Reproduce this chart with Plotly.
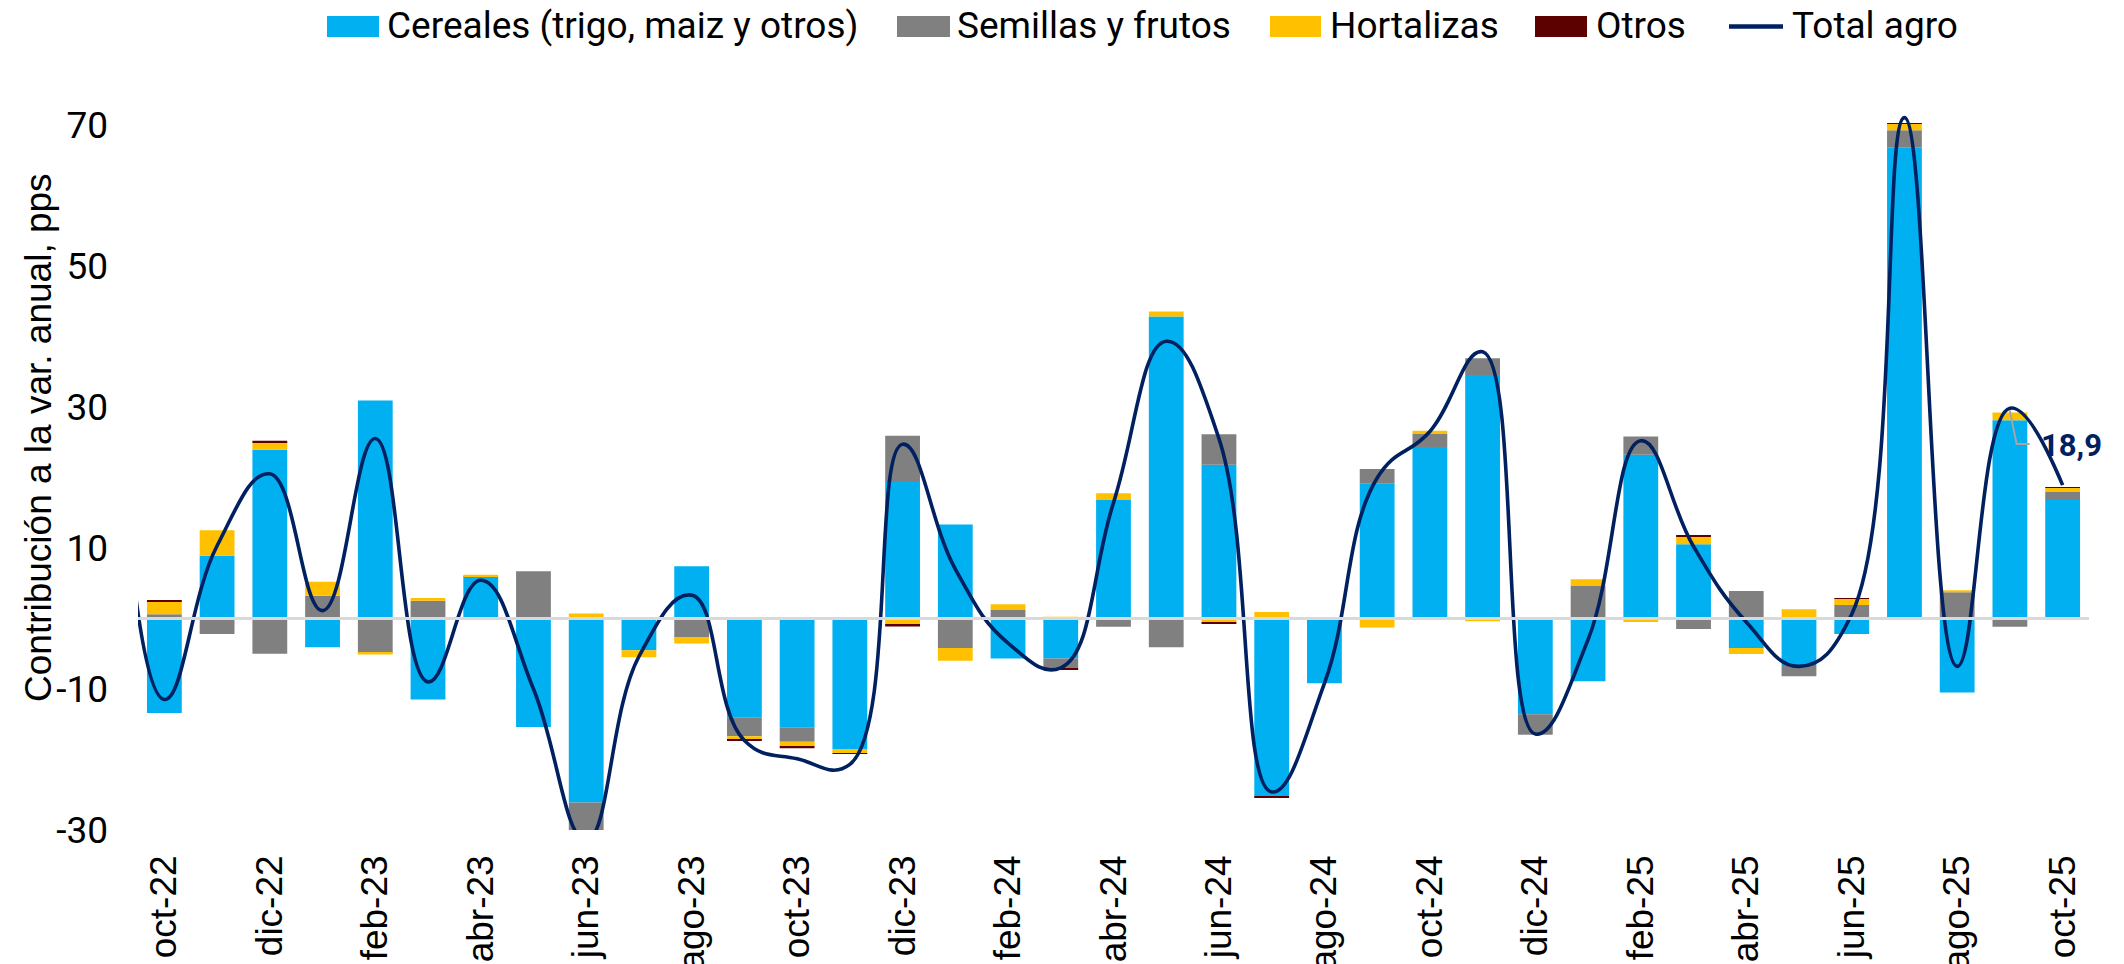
import plotly.graph_objects as go

months = ["oct-22", "nov-22", "dic-22", "ene-23", "feb-23", "mar-23", "abr-23", "may-23",
          "jun-23", "jul-23", "ago-23", "sep-23", "oct-23", "nov-23", "dic-23", "ene-24",
          "feb-24", "mar-24", "abr-24", "may-24", "jun-24", "jul-24", "ago-24", "sep-24",
          "oct-24", "nov-24", "dic-24", "ene-25", "feb-25", "mar-25", "abr-25", "may-25",
          "jun-25", "jul-25", "ago-25", "sep-25", "oct-25"]

cereales = [-13.4, 8.9, 23.9, -4.1, 30.9, -11.5, 5.8, -15.4,
            -26.1, -4.5, 7.4, -14.1, -15.5, -18.6, 19.5, 13.3,
            -5.7, -5.7, 16.8, 42.8, 21.8, -25.3, -9.2, 19.1,
            24.3, 34.5, -13.6, -8.9, 23.2, 10.5, -4.2, -6.6,
            -2.2, 66.8, -10.5, 28.1, 16.8]
semillas = [0.6, -2.2, -5.0, 3.2, -4.9, 2.5, 0.2, 6.7,
            -4.5, 0.0, -2.7, -2.6, -2.0, 0.15, 6.4, -4.2,
            1.2, -1.4, -1.2, -4.1, 4.3, 0.0, 0.0, 2.1,
            1.9, 2.4, -2.9, 4.6, 2.6, -1.5, 3.9, -1.6,
            1.9, 2.4, 3.7, -1.2, 1.2]
hortalizas = [1.8, 3.6, 1.1, 2.0, -0.2, 0.4, 0.2, 0.0,
              0.7, -1.0, -0.85, -0.5, -0.7, -0.5, -0.9, -1.8,
              0.8, 0.25, 0.95, 0.7, -0.6, 0.9, 0.0, -1.3,
              0.4, -0.4, 0.0, 0.95, -0.5, 1.1, -0.85, 1.3,
              0.9, 0.9, 0.3, 1.1, 0.5]
otros = [0.1, 0.0, 0.2, 0.0, 0.0, 0.0, 0.0, 0.0,
         0.0, 0.0, 0.0, -0.15, -0.2, -0.1, -0.25, 0.0,
         0.0, -0.1, 0.0, 0.0, -0.1, -0.1, 0.0, 0.0,
         0.0, 0.0, 0.15, 0.0, 0.0, 0.1, 0.0, 0.0,
         0.05, 0.1, 0.0, 0.0, 0.1]

# total agro line: first value is sep-22 (outside the visible range, only its curve enters)
total_months = ["sep-22"] + months
total = [42.0,
         -11.5, 10.3, 20.5, 1.1, 25.5, -9.0, 5.4, -10.0,
         -31.5, -5.4, 3.3, -17.3, -19.9, -20.7, 24.7, 7.0,
         -3.5, -7.0, 16.4, 39.3, 25.5, -24.6, -9.2, 19.9,
         26.5, 37.8, -16.4, -3.0, 25.2, 10.2, -0.5, -6.8,
         0.6, 71.0, -6.8, 29.8, 18.9]

y_ticks = [-30, -10, 10, 30, 50, 70]

C_CER = "#00B0F0"
C_SEM = "#808080"
C_HOR = "#FFC000"
C_OTR = "#5C0000"
C_TOT = "#002060"

x_bar = list(range(len(months)))
x_line = list(range(-1, len(months)))

W, H = 2124, 964
OFF = 8  # the page body adds an 8 px offset; targets below are screen pixels
PL, PR, PT, PB = 138, 2089, 82, 830  # plot area on screen
ML, MR = PL - OFF, W - (PR - OFF)
MT, MB = PT - OFF, H - (PB - OFF)
PW, PH = PR - PL, PB - PT


def px(xs):
    return (xs - PL) / PW


def py(ys):
    return (PB - ys) / PH


fig = go.Figure()
for name, vals, col in [("Cereales (trigo, maiz y otros)", cereales, C_CER),
                        ("Semillas y frutos", semillas, C_SEM),
                        ("Hortalizas", hortalizas, C_HOR),
                        ("Otros", otros, C_OTR)]:
    fig.add_trace(go.Bar(x=x_bar, y=vals, name=name, marker=dict(color=col, line=dict(width=0)),
                         showlegend=False))

fig.add_trace(go.Scatter(x=x_line, y=total, name="Total agro", mode="lines",
                         line=dict(color=C_TOT, width=3.6, shape="spline", smoothing=1.25),
                         showlegend=False, cliponaxis=True))

shapes = []
annotations = []

# zero line
shapes.append(dict(type="line", xref="paper", x0=0, x1=1, yref="y", y0=0, y1=0,
                   line=dict(color="#D9D9D9", width=3), layer="above"))

# custom legend
leg_font = dict(family="Roboto", size=37, color="#000000")
items = [(327, 379, 385, C_CER, "Cereales (trigo, maiz y otros)", "rect"),
         (897, 950, 955, C_SEM, "Semillas y frutos", "rect"),
         (1270, 1321, 1328, C_HOR, "Hortalizas", "rect"),
         (1535, 1587, 1594, C_OTR, "Otros", "rect"),
         (1729, 1783, 1790, C_TOT, "Total agro", "line")]
for x0, x1, xt, col, txt, kind in items:
    if kind == "rect":
        shapes.append(dict(type="rect", xref="paper", yref="paper",
                           x0=px(x0), x1=px(x1), y0=py(37), y1=py(16),
                           fillcolor=col, line=dict(width=0)))
    else:
        shapes.append(dict(type="line", xref="paper", yref="paper",
                           x0=px(x0), x1=px(x1), y0=py(26.5), y1=py(26.5),
                           line=dict(color=col, width=4.5)))
    annotations.append(dict(xref="paper", yref="paper", x=px(xt), y=py(25),
                            xanchor="left", yanchor="middle", text=txt,
                            showarrow=False, font=leg_font))

# y-axis title
annotations.append(dict(xref="paper", yref="paper", x=px(38), y=py(438),
                        xanchor="center", yanchor="middle", textangle=-90,
                        text="Contribución a la var. anual, pps", showarrow=False,
                        font=dict(family="Liberation Sans, Arial", size=37, color="#000000")))

# last value label with leader
last_x = x_bar[-1]
last_y = total[-1]
annotations.append(dict(xref="x", yref="y", x=last_x, y=last_y, xshift=9, yshift=40,
                        xanchor="center", yanchor="middle",
                        text="<b>" + f"{last_y:.1f}".replace(".", ",") + "</b>",
                        showarrow=False, font=dict(family="Roboto", size=31, color=C_TOT)))
shapes.append(dict(type="path", xref="x", yref="y", xsizemode="pixel", ysizemode="pixel",
                   xanchor=last_x, yanchor=last_y,
                   path="M-53,75 L-46,41 L-33,41",
                   line=dict(color="#A6A6A6", width=2)))

# small mark in the bottom-left corner
shapes.append(dict(type="line", xref="paper", yref="paper", x0=px(7), x1=px(7),
                   y0=py(932), y1=py(964), line=dict(color="#1F3864", width=2)))

fig.update_layout(
    width=W, height=H,
    margin=dict(l=ML, r=MR, t=MT, b=MB, pad=0, autoexpand=False),
    barmode="relative", bargap=0.34,
    plot_bgcolor="white", paper_bgcolor="white",
    showlegend=False,
    shapes=shapes, annotations=annotations,
    xaxis=dict(range=[-0.5, len(months) - 0.5], tickmode="array",
               tickvals=x_bar[::2], ticktext=months[::2], tickangle=-90,
               tickfont=dict(family="Liberation Sans, Arial", size=37, color="#000000"),
               showgrid=False, zeroline=False, showline=False, ticks="",
               ticklabelstandoff=17, automargin=False),
    yaxis=dict(range=[-30, -30 + (PH / 7.053)], tickmode="array", tickvals=y_ticks,
               ticktext=[str(v) for v in y_ticks],
               tickfont=dict(family="Roboto", size=37, color="#000000"),
               showgrid=False, zeroline=False, showline=False, ticks="",
               ticklabelstandoff=29, automargin=False),
)

fig.write_html("out.html")
